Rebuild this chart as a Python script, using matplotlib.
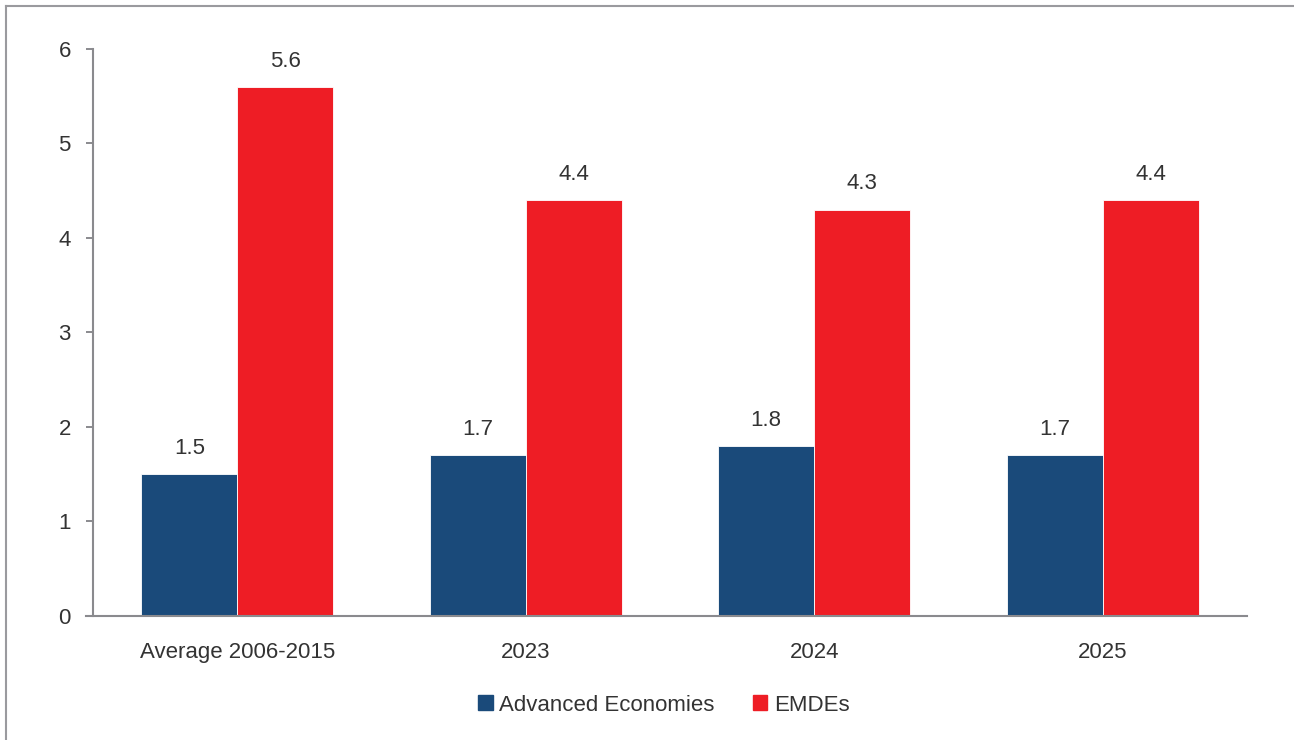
import matplotlib.pyplot as plt
import numpy as np
from matplotlib.lines import Line2D
from matplotlib.patches import Patch

categories = ['Average 2006-2015', '2023', '2024', '2025']
advanced = [1.5, 1.7, 1.8, 1.7]
emdes = [5.6, 4.4, 4.3, 4.4]
series_names = ['Advanced Economies', 'EMDEs']

BLUE = '#1a4a7a'
RED = '#ee1d25'
TEXT = '#333333'
AXIS = '#8a8a8e'

plt.rcParams['font.family'] = ['Liberation Sans', 'DejaVu Sans']

fig = plt.figure(figsize=(12.94, 7.40), dpi=100)
ax = fig.add_axes([0.0719, 0.1676, 0.8918, 0.7662])

x = np.arange(len(categories))
w = 0.333
b1 = ax.bar(x - w / 2, advanced, w, color=BLUE, edgecolor='white', linewidth=0.6)
b2 = ax.bar(x + w / 2, emdes, w, color=RED, edgecolor='white', linewidth=0.6)

for bars, vals in ((b1, advanced), (b2, emdes)):
    for rect, v in zip(bars, vals):
        ax.annotate(f'{v:.1f}', (rect.get_x() + rect.get_width() / 2, v),
                    xytext=(0, 11), textcoords='offset points',
                    ha='center', va='bottom', fontsize=16, color=TEXT)

ax.set_xlim(-0.5, 3.5)
ax.set_ylim(0, 6)
ax.set_yticks(range(7))
ax.set_xticks(x)
ax.set_xticklabels(categories)
ax.tick_params(axis='y', length=5, width=1.4, color=AXIS, labelsize=16,
               labelcolor=TEXT, pad=11)
ax.tick_params(axis='x', length=0, labelsize=16, labelcolor=TEXT, pad=19)
for s in ('top', 'right'):
    ax.spines[s].set_visible(False)
for s in ('left', 'bottom'):
    ax.spines[s].set_color(AXIS)
    ax.spines[s].set_linewidth(1.5)
ax.spines['bottom'].set_bounds(-0.5 - 7 / 288.5, 3.5)

handles = [Patch(color=BLUE), Patch(color=RED)]
fig.legend(handles, series_names, loc='center', bbox_to_anchor=(0.513, 0.047),
           ncol=2, frameon=False, fontsize=16, handlelength=0.65,
           handleheight=0.65, handletextpad=0.3, columnspacing=1.7,
           labelcolor=TEXT)

# outer frame lines
fig.add_artist(Line2D([6 / 1294, 6 / 1294], [0, 734 / 740], color='#9a9a9e', lw=1.5))
fig.add_artist(Line2D([6 / 1294, 1], [734 / 740, 734 / 740], color='#9a9a9e', lw=1.5))

fig.savefig('out.png', dpi=100)
